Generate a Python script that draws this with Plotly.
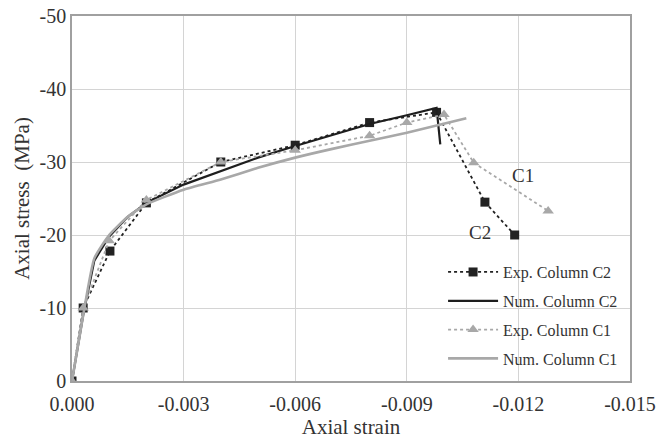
import plotly.graph_objects as go

# Experimental column C2
exp_c2_strain = [0.0, -0.0003, -0.00102, -0.002, -0.004, -0.006, -0.008, -0.0098, -0.0111, -0.0119]
exp_c2_stress = [0.0, -10.0, -17.8, -24.4, -30.0, -32.3, -35.4, -36.8, -24.5, -20.0]

# Numerical column C2
num_c2_strain = [0.0, -0.0003, -0.0006, -0.001, -0.0015, -0.002, -0.003, -0.004, -0.005, -0.006, -0.007, -0.008, -0.009, -0.0098, -0.0099]
num_c2_stress = [0.0, -9.0, -16.5, -19.8, -22.5, -24.4, -26.9, -28.7, -30.6, -32.2, -33.7, -35.2, -36.4, -37.4, -32.4]

# Experimental column C1
exp_c1_strain = [0.0, -0.0003, -0.001, -0.002, -0.004, -0.006, -0.008, -0.009, -0.01, -0.0108, -0.0128]
exp_c1_stress = [0.0, -10.0, -19.2, -24.8, -30.0, -31.6, -33.6, -35.4, -36.5, -29.9, -23.3]

# Numerical column C1
num_c1_strain = [0.0, -0.0003, -0.0006, -0.001, -0.0015, -0.002, -0.003, -0.004, -0.005, -0.006, -0.007, -0.008, -0.009, -0.0106]
num_c1_stress = [0.0, -9.0, -16.8, -20.0, -22.5, -24.2, -26.2, -27.6, -29.2, -30.6, -31.8, -32.9, -34.0, -36.0]

x_ticks = [0.0, -0.003, -0.006, -0.009, -0.012, -0.015]
x_tick_text = ["0.000", "-0.003", "-0.006", "-0.009", "-0.012", "-0.015"]
y_ticks = [0, -10, -20, -30, -40, -50]
y_tick_text = ["0", "-10", "-20", "-30", "-40", "-50"]

font_family = "Liberation Serif, Times New Roman, serif"

fig = go.Figure()
fig.add_trace(go.Scatter(
    x=exp_c2_strain, y=exp_c2_stress, name="Exp. Column C2", mode="lines+markers",
    legendgroup="g1",
    line=dict(color="#222222", width=1.8, dash="dot"),
    marker=dict(symbol="square", size=9, color="#222222")))
fig.add_trace(go.Scatter(
    x=num_c2_strain, y=num_c2_stress, name="Num. Column C2", mode="lines",
    legendgroup="g2",
    line=dict(color="#1e1e1e", width=2.2)))
fig.add_trace(go.Scatter(
    x=exp_c1_strain, y=exp_c1_stress, name="Exp. Column C1", mode="lines+markers",
    legendgroup="g3",
    line=dict(color="#a8a8a8", width=1.8, dash="dot"),
    marker=dict(symbol="triangle-up", size=10, color="#a8a8a8")))
fig.add_trace(go.Scatter(
    x=num_c1_strain, y=num_c1_stress, name="Num. Column C1", mode="lines",
    legendgroup="g4",
    line=dict(color="#a8a8a8", width=2.6, shape="spline", smoothing=0.5)))

fig.add_annotation(x=-0.01212, y=-28.1, text="C1", showarrow=False,
                   font=dict(family=font_family, size=19, color="#333333"))
fig.add_annotation(x=-0.01097, y=-20.4, text="C2", showarrow=False,
                   font=dict(family=font_family, size=19, color="#333333"))

fig.update_layout(
    width=656, height=441,
    margin=dict(l=72, r=26, t=16, b=60),
    paper_bgcolor="white", plot_bgcolor="white",
    font=dict(family=font_family, size=20, color="#333333"),
    showlegend=True,
    legend=dict(x=0.665, y=0.345, xanchor="left", yanchor="top",
                bgcolor="rgba(255,255,255,0)", font=dict(size=16, color="#333333"),
                tracegroupgap=5, itemwidth=50),
    xaxis=dict(range=[0, -0.015], tickvals=x_ticks, ticktext=x_tick_text,
               showgrid=True, gridcolor="#d4d4d4", gridwidth=1,
               showline=True, linecolor="#a0a0a0", linewidth=1.5, mirror=True,
               zeroline=False, ticks="", ticklabelstandoff=4, automargin=False,
               title=dict(text="Axial strain", font=dict(size=21), standoff=3)),
    yaxis=dict(range=[0, -50], tickvals=y_ticks, ticktext=y_tick_text,
               showgrid=True, gridcolor="#d4d4d4", gridwidth=1,
               showline=True, linecolor="#a0a0a0", linewidth=1.5, mirror=True,
               zeroline=False, ticks="", automargin=False,
               title=dict(text="Axial stress  (MPa)", font=dict(size=21), standoff=4)),
)

fig.write_html("out.html")
